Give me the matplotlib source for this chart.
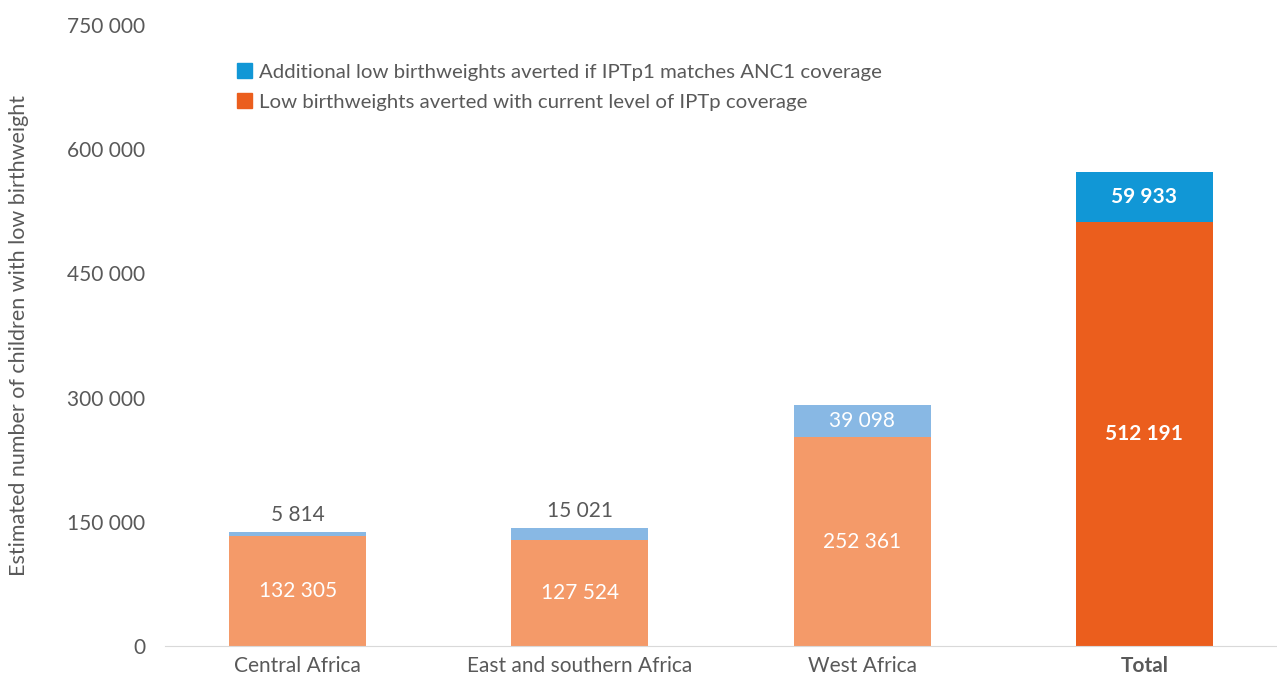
import matplotlib.pyplot as plt
import numpy as np
from matplotlib.patches import Patch

regions = ['Central Africa', 'East and southern Africa', 'West Africa', 'Total']
current = [132305, 127524, 252361, 512191]
additional = [5814, 15021, 39098, 59933]

legend_labels = ['Additional low birthweights averted if IPTp1 matches ANC1 coverage',
                 'Low birthweights averted with current level of IPTp coverage']

light_orange = '#F49A69'
light_blue = '#88B8E4'
dark_orange = '#EB5E1D'
dark_blue = '#1197D6'
text_col = '#595959'


def fmt(v):
    return f'{v:,}'.replace(',', ' ')


plt.rcParams['font.family'] = ['Lato', 'DejaVu Sans']

fig = plt.figure(figsize=(12.77, 6.77), dpi=100)
ax = fig.add_axes([165 / 1277, 31 / 677, 1112 / 1277, 621 / 677])

x = np.arange(len(regions))
w = 0.486
low_cols = [light_orange] * 3 + [dark_orange]
top_cols = [light_blue] * 3 + [dark_blue]

ax.bar(x, current, w, color=low_cols)
ax.bar(x, additional, w, bottom=current, color=top_cols)

for i in range(len(regions)):
    bold = 'bold' if regions[i] == 'Total' else 'normal'
    ax.text(x[i], current[i] / 2, fmt(current[i]), ha='center', va='center',
            color='white', fontsize=15, fontweight=bold)
    top = current[i] + additional[i]
    if additional[i] > 30000:
        ax.text(x[i], current[i] + additional[i] / 2, fmt(additional[i]),
                ha='center', va='center', color='white', fontsize=15, fontweight=bold)
    else:
        ax.annotate(fmt(additional[i]), (x[i], top), xytext=(0, 5),
                    textcoords='offset points', ha='center', va='bottom',
                    color=text_col, fontsize=15)

ax.set_ylim(0, 750000)
ax.set_xlim(-0.47, 3.47)
yt = [0, 150000, 300000, 450000, 600000, 750000]
ax.set_yticks(yt)
ax.set_yticklabels([fmt(v) for v in yt])
ax.set_xticks(x)
ax.set_xticklabels(regions)
for lab in ax.get_xticklabels():
    if lab.get_text() == 'Total':
        lab.set_fontweight('bold')

ax.tick_params(axis='y', length=0, pad=14, labelsize=15, labelcolor=text_col)
ax.tick_params(axis='x', length=0, pad=7, labelsize=15, labelcolor=text_col)

for s in ['top', 'right', 'left']:
    ax.spines[s].set_visible(False)
ax.spines['bottom'].set_color('#D9D9D9')

ax.set_ylabel('Estimated number of children with low birthweight', fontsize=15.5, color=text_col)
ax.yaxis.set_label_coords(-0.122, 0.5)

handles = [Patch(color=dark_blue), Patch(color=dark_orange)]
fig.legend(handles, legend_labels, loc='upper left', bbox_to_anchor=(229 / 1277, 1 - 55 / 677),
           frameon=False, fontsize=14.7, labelcolor=text_col, handlelength=0.75, handleheight=0.75,
           handletextpad=0.3, labelspacing=0.6, borderaxespad=0)

fig.savefig('out.png', dpi=100)
